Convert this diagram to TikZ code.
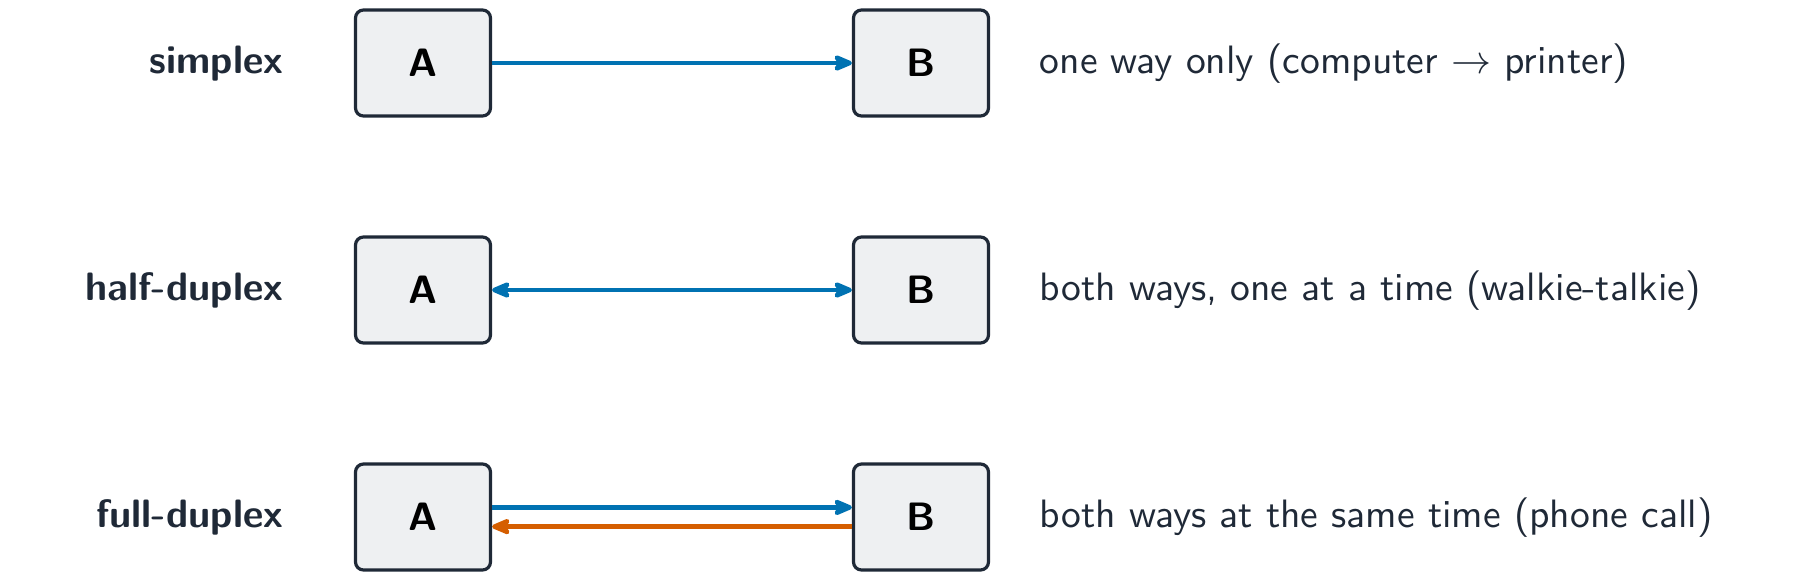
\documentclass[tikz,border=0pt]{standalone}
\usetikzlibrary{arrows.meta}
\definecolor{ink}{HTML}{1F2937}
\definecolor{boxfill}{HTML}{EEF0F2}
\definecolor{cblue}{HTML}{0072B2}
\definecolor{corange}{HTML}{D55E00}
\begin{document}
\begin{tikzpicture}[x=0.25pt,y=-0.25pt,
  endpoint/.style={draw=ink, fill=boxfill, line width=0.8pt, rounded corners=2pt,
    minimum width=33.75pt, minimum height=26.5pt, inner sep=0pt,
    font=\fontsize{9.9}{12}\selectfont\sffamily\bfseries, text=black},
  rowlabel/.style={anchor=east, inner sep=0pt, text height=7pt, text depth=2pt,
    font=\fontsize{9.9}{12}\selectfont\sffamily\bfseries, text=ink},
  desc/.style={anchor=west, inner sep=0pt, text height=7pt, text depth=2pt,
    font=\fontsize{9.9}{12}\selectfont\sffamily, text=ink},
  tip/.tip={Stealth[length=6pt,width=5pt,inset=1.6pt,round]},
  link/.style={line width=1.1pt, -tip},
  biglink/.style={line width=1.1pt, tip-tip}]
\useasboundingbox (0,0) rectangle (1800,581);
% row 1
\node[rowlabel] (l1) at (284,63) {simplex};
\node[endpoint] (a1) at (423,63) {A};
\node[endpoint] (b1) at (921,63) {B};
\node[desc] (d1) at (1039,63) {one way only (computer $\rightarrow$ printer)};
\draw[link, cblue] (a1.east) -- (b1.west);
% row 2
\node[rowlabel] (l2) at (284,290) {half-duplex};
\node[endpoint] (a2) at (423,290) {A};
\node[endpoint] (b2) at (921,290) {B};
\node[desc] (d2) at (1039,290) {both ways, one at a time (walkie-talkie)};
\draw[biglink, cblue] (a2.east) -- (b2.west);
% row 3
\node[rowlabel] (l3) at (284,517) {full-duplex};
\node[endpoint] (a3) at (423,517) {A};
\node[endpoint] (b3) at (921,517) {B};
\node[desc] (d3) at (1039,517) {both ways at the same time (phone call)};
\draw[link, cblue] ([yshift=2.4pt]a3.east) -- ([yshift=2.4pt]b3.west);
\draw[link, corange] ([yshift=-2.4pt]b3.west) -- ([yshift=-2.4pt]a3.east);
\end{tikzpicture}
\end{document}
